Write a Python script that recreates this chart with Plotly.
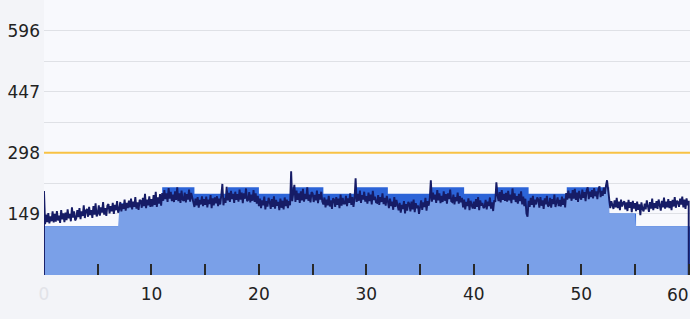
import numpy as np
import plotly.graph_objects as go

# ---------------- data ----------------
sample_interval = 0.1          # spacing of the usage samples on the x axis
baseline_value = 0             # the usage series starts and ends at zero

# usage samples, one row per x unit (x = k.0 ... k.9)
usage_values = [
    205, 124, 147, 129, 151, 126, 143, 131, 155, 128,
    149, 130, 156, 133, 145, 127, 158, 136, 150, 129,
    152, 134, 160, 138, 149, 131, 165, 140, 155, 133,
    138, 158, 141, 163, 136, 155, 144, 170, 139, 157,
    161, 142, 166, 146, 158, 139, 168, 147, 175, 143,
    150, 170, 145, 165, 152, 178, 147, 163, 144, 169,
    173, 150, 168, 155, 176, 149, 171, 158, 180, 152,
    160, 178, 155, 173, 161, 184, 157, 176, 163, 181,
    165, 186, 160, 179, 166, 190, 162, 177, 159, 183,
    181, 164, 188, 168, 198, 163, 184, 170, 192, 166,
    185, 167, 195, 171, 203, 166, 189, 174, 197, 169,
    200, 181, 207, 185, 199, 178, 212, 186, 203, 180,
    196, 178, 204, 183, 214, 180, 199, 176, 206, 184,
    181, 201, 177, 197, 184, 208, 179, 200, 186, 175,
    166, 186, 170, 190, 164, 183, 172, 192, 168, 185,
    171, 191, 165, 184, 173, 195, 163, 187, 170, 189,
    175, 192, 168, 186, 172, 194, 222, 170, 188, 176,
    215, 182, 200, 178, 205, 185, 198, 176, 203, 183,
    197, 179, 208, 184, 201, 175, 199, 186, 211, 180,
    183, 202, 177, 196, 181, 207, 178, 199, 174, 193,
    168, 186, 163, 182, 170, 191, 160, 180, 167, 188,
    179, 161, 185, 166, 192, 162, 183, 169, 178, 158,
    186, 164, 181, 160, 189, 168, 184, 163, 180, 170,
    253, 180, 203, 220, 178, 206, 183, 199, 176, 204,
    182, 210, 179, 198, 185, 214, 181, 196, 177, 202,
    199, 178, 195, 182, 206, 175, 197, 184, 203, 179,
    172, 189, 165, 184, 170, 193, 167, 182, 161, 187,
    183, 166, 190, 171, 186, 163, 196, 169, 188, 174,
    174, 193, 168, 187, 176, 199, 171, 190, 166, 185,
    236, 178, 198, 181, 206, 176, 195, 184, 203, 179,
    192, 174, 201, 180, 196, 172, 205, 183, 191, 177,
    176, 195, 171, 190, 178, 199, 173, 188, 169, 193,
    180, 163, 186, 168, 179, 159, 190, 166, 183, 170,
    158, 176, 152, 171, 161, 180, 150, 173, 157, 178,
    173, 155, 179, 160, 184, 153, 175, 163, 170, 149,
    164, 182, 159, 177, 166, 188, 157, 180, 169, 186,
    231, 179, 201, 184, 196, 176, 207, 182, 199, 175,
    193, 178, 204, 181, 197, 174, 199, 185, 208, 180,
    178, 196, 172, 190, 180, 201, 174, 192, 177, 188,
    165, 184, 160, 178, 168, 187, 158, 181, 170, 162,
    179, 161, 185, 166, 190, 158, 182, 169, 176, 163,
    166, 183, 160, 179, 168, 189, 162, 177, 156, 182,
    178, 226, 195, 180, 202, 177, 207, 183, 198, 181,
    200, 179, 205, 182, 196, 175, 211, 184, 199, 178,
    192, 174, 198, 180, 204, 172, 191, 168, 186, 150,
    142, 181, 166, 188, 171, 193, 165, 184, 172, 189,
    184, 164, 190, 169, 182, 161, 187, 172, 193, 167,
    170, 188, 164, 185, 173, 196, 166, 182, 189, 168,
    183, 167, 191, 171, 186, 165, 200, 184, 206, 187,
    199, 181, 207, 186, 210, 183, 201, 178, 205, 189,
    184, 208, 188, 202, 180, 206, 214, 185, 203, 190,
    207, 187, 212, 192, 204, 185, 209, 216, 190, 205,
    193, 213, 198, 218, 231, 208, 184, 163, 180, 166,
    161, 182, 165, 188, 163, 179, 158, 184, 167, 176,
    180, 160, 177, 156, 183, 164, 178, 153, 181, 162,
    175, 156, 179, 159, 172, 146, 177, 161, 155, 174,
    160, 182, 164, 154, 178, 162, 186, 158, 175, 163,
    180, 161, 184, 166, 157, 181, 165, 189, 162, 179,
    165, 185, 163, 180, 158, 183, 167, 190, 164, 181,
    178, 166, 186, 172, 191, 165, 184, 161, 187, 170,
    181,
]

# stepped allocation series: start of each step and its value
step_starts = [0, 7, 11, 14, 17.1, 20, 23.07, 26, 29.1, 32, 36.1, 39.1, 42.1, 45.1, 48.65, 52.6, 55.1]
step_values = [119, 175, 214, 198, 214, 198, 214, 198, 214, 198, 214, 198, 214, 198, 214, 150, 119]

threshold_value = 298

x_axis_max = 60.12
y_axis_max = 670.5
grid_step = 74.5

x_tick_values = [0, 10, 20, 30, 40, 50, 60]
x_tick_labels = ['0', '10', '20', '30', '40', '50', '60']
x_minor_tick_step = 5

y_tick_values = [149, 298, 447, 596]
y_tick_labels = ['149', '298', '447', '596']

# ---------------- derived series ----------------
t = np.round(np.arange(len(usage_values)) * sample_interval, 2)
x_line = np.concatenate([[t[0]], t, [t[-1]]])
y_line = np.concatenate([[baseline_value], usage_values, [baseline_value]]).astype(float)

idx = np.searchsorted(np.array(step_starts), x_line, side='right') - 1
step_at_line = np.array(step_values, dtype=float)[idx]
covered = np.minimum(y_line, step_at_line)

step_x = list(step_starts) + [x_axis_max]
step_y = list(step_values) + [step_values[-1]]

# tick text: first label faded, last label placed as a right-aligned annotation
x_ticktext = ['<span style="color:#e2e3e8">%s</span>' % x_tick_labels[0]] + x_tick_labels[1:-1] + ['']

# ---------------- figure ----------------
FONT = "DejaVu Sans"
TEXT = "#222222"
NAVY = "#161c66"
DARK_BLUE = "#2c64d8"
LIGHT_BLUE = "#7aa0e8"

fig = go.Figure()

fig.add_trace(go.Scatter(
    x=step_x, y=step_y, mode="lines", line=dict(width=0, shape="hv", color=DARK_BLUE),
    fill="tozeroy", fillcolor=DARK_BLUE, hoverinfo="skip",
))
fig.add_trace(go.Scatter(
    x=x_line, y=covered, mode="lines", line=dict(width=0, color=LIGHT_BLUE),
    fill="tozeroy", fillcolor=LIGHT_BLUE, hoverinfo="skip",
))
fig.add_trace(go.Scatter(
    x=x_line, y=y_line, mode="lines", line=dict(width=1.9, color=NAVY),
    hoverinfo="skip",
))

fig.add_shape(type="line", xref="paper", x0=0, x1=1, yref="y",
              y0=threshold_value, y1=threshold_value,
              line=dict(color="#f8c244", width=2), layer="above")

fig.add_annotation(
    x=x_tick_values[-1], xref="x", xanchor="right", xshift=2,
    y=0, yref="paper", yanchor="middle", yshift=-20,
    text=x_tick_labels[-1], showarrow=False,
    font=dict(family=FONT, size=17, color=TEXT),
)

fig.update_layout(
    width=690, height=319,
    margin=dict(l=44, r=0, t=0, b=44, autoexpand=False),
    paper_bgcolor="#f3f4f8",
    plot_bgcolor="#f8f9fd",
    showlegend=False,
    font=dict(family=FONT, size=17, color=TEXT),
)

fig.update_xaxes(
    range=[0, x_axis_max],
    tickmode="array", tickvals=x_tick_values, ticktext=x_ticktext,
    ticks="inside", ticklen=11, tickwidth=1.5, tickcolor="#2a2a2a",
    ticklabeloverflow="allow", ticklabelstandoff=7, automargin=False,
    showgrid=False, zeroline=False, showline=False,
    minor=dict(tick0=0, dtick=x_minor_tick_step, ticks="inside", ticklen=11,
               tickwidth=1.5, tickcolor="#2a2a2a", showgrid=False),
    tickfont=dict(family=FONT, size=17, color=TEXT),
    fixedrange=True,
)

fig.update_yaxes(
    range=[0, y_axis_max],
    tickmode="array", tickvals=y_tick_values, ticktext=y_tick_labels,
    ticks="", showgrid=True, gridcolor="#dfe1e6", gridwidth=1,
    minor=dict(tick0=0, dtick=grid_step, showgrid=True, gridcolor="#dfe1e6", gridwidth=1),
    zeroline=False, showline=False, automargin=False, ticklabelstandoff=3,
    tickfont=dict(family=FONT, size=17, color=TEXT),
    fixedrange=True,
)

fig.write_html("out.html", config={"displayModeBar": False})
